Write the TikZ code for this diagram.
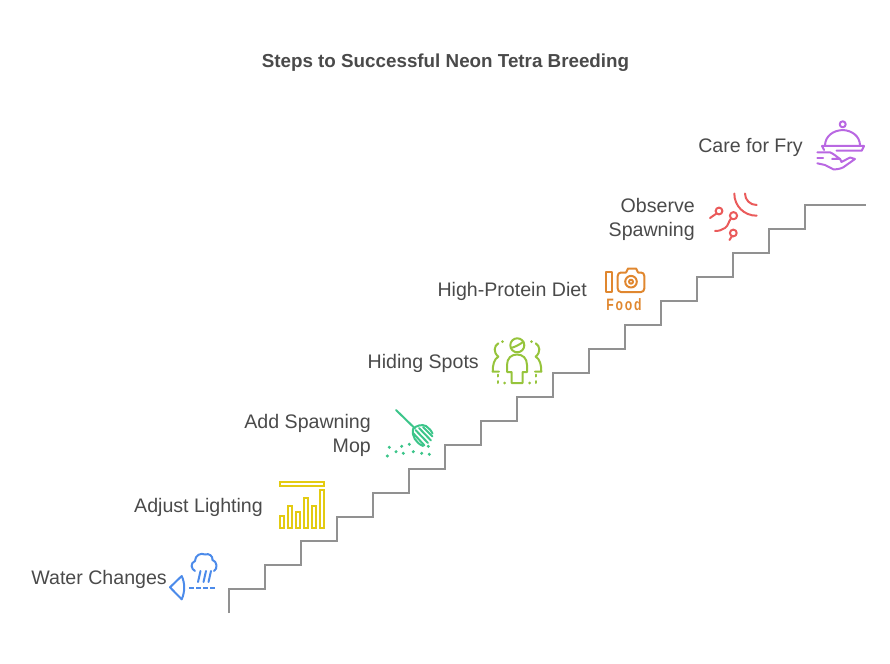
\documentclass[tikz,border=0pt]{standalone}
\usepackage{fontspec}
\setmainfont{Liberation Sans}
\definecolor{txt}{HTML}{4A4A4A}
\definecolor{stair}{HTML}{919191}
\definecolor{iblue}{HTML}{4C8BEA}
\definecolor{iyellow}{HTML}{E3CB12}
\definecolor{igreen}{HTML}{3CC58A}
\definecolor{ilime}{HTML}{96C43C}
\definecolor{iorange}{HTML}{E0872F}
\definecolor{ired}{HTML}{EA5B5B}
\definecolor{ipurple}{HTML}{B968E2}
\tikzset{
  lbl/.style={anchor=east,align=right,text=txt,inner sep=0pt,font=\fontsize{19.6}{24}\selectfont},
  ttl/.style={text=txt,inner sep=0pt,font=\fontsize{18.8}{24}\selectfont\bfseries},
  icon/.style={line width=2pt,line cap=round,line join=round,draw=#1}
}
\begin{document}
\begin{tikzpicture}[x=1pt,y=-1pt]
\useasboundingbox (0,0) rectangle (890,663);
\node[ttl] (title) at (445.5,63) {Steps to Successful Neon Tetra Breeding};
% stairs
\draw[stair,line width=2pt] (229,613) -- (229,589) -- (265,589) -- (265,565) -- (301,565) -- (301,541) -- (337,541) -- (337,517) -- (373,517) -- (373,493) -- (409,493) -- (409,469) -- (445,469) -- (445,445) -- (481,445) -- (481,421) -- (517,421) -- (517,397) -- (553,397) -- (553,373) -- (589,373) -- (589,349) -- (625,349) -- (625,325) -- (661,325) -- (661,301) -- (697,301) -- (697,277) -- (733,277) -- (733,253) -- (769,253) -- (769,229) -- (805,229) -- (805,205) -- (866,205);
% labels
\node[lbl] (water) at (167,579.5) {Water Changes};
\node[lbl] (light) at (263,507.5) {Adjust Lighting};
\node[lbl] (mop) at (371,435.5) {Add Spawning\\Mop};
\node[lbl] (hide) at (479,363.5) {Hiding Spots};
\node[lbl] (diet) at (587,291.5) {High-Protein Diet};
\node[lbl] (obs) at (695,219.5) {Observe\\Spawning};
\node[lbl] (fry) at (803,147.5) {Care for Fry};
% water icon
\begin{scope}[icon=iblue]
\draw (181.7,576) -- (170,587.3) -- (181.7,599.3);
\draw (181.7,576) .. controls (185,583) and (185,592) .. (181.7,599.3);
\draw (195,571) .. controls (191,569) and (190,563) .. (195,561) .. controls (195,555) and (201,552.5) .. (205,554.5) .. controls (209,553) and (213,556) .. (212.5,560) .. controls (217,561) and (218,569) .. (214,571);
\draw (200.5,571) -- (198,582);
\draw (206,571) -- (203.5,582);
\draw (211,571) -- (208.5,582);
\end{scope}
\foreach \sx in {189,196,203,210}{\fill[iblue] (\sx,586.5) rectangle ++(5,2);}
% lighting icon
\begin{scope}[icon=iyellow,line join=miter,line cap=butt,line width=2pt]
\draw (280,482) rectangle (324,486);
\draw (280,516) rectangle (284,528);
\draw (288,505.5) rectangle (292,528);
\draw (296,511.5) rectangle (300,528);
\draw (304,497.5) rectangle (308,528);
\draw (312,505.5) rectangle (316,528);
\draw (320,490) rectangle (324,528);
\end{scope}
% mop icon
\begin{scope}[icon=igreen]
\draw (396,410) -- (415,428.5);
\draw (413,429) .. controls (416,425.5) and (422,424) .. (426,426) .. controls (429,428) and (431.5,431) .. (432.5,433.5);
\draw (413,433) -- (424.5,445.5);
\draw (415.5,430) -- (428,443);
\draw (419,428) -- (431,440.5);
\draw (423,427) -- (432.5,436.5);
\draw (413,429) .. controls (411.5,436) and (416,443) .. (423,446);
\end{scope}
\foreach \px/\py in {389.3/447.3,396/451.7,401.7/446.3,409.3/444.3,403.3/453.3,413.3/451.7,421.7/453.3,429.3/454.3,428.3/446.3,387.3/456}{
  \fill[igreen] (\px,\py) circle (1.7pt);
}
% hiding icon
\begin{scope}[icon=ilime]
\draw (517.3,345.3) circle (7pt);
\draw (511,348) .. controls (515,347) and (520,344.5) .. (523.5,341.5);
\draw (511.7,383) -- (511.7,372) -- (507,372) -- (507,365) .. controls (507,358) and (511.5,354.5) .. (517,354.5) .. controls (522.5,354.5) and (527,358) .. (527,365) -- (527,372) -- (522.5,372) -- (522.5,383) -- cycle;
\draw (498.3,343.3) .. controls (494,346) and (493,352) .. (498.3,356.7) .. controls (494,359) and (492.7,365) .. (492.7,371.7) -- (499,371.7);
\draw (535.7,343.3) .. controls (540,346) and (541,352) .. (535.7,356.7) .. controls (540,359) and (541.3,365) .. (541.3,371.7) -- (535,371.7);
\foreach \sy in {374.5,381}{\draw (498,\sy) -- ++(0,2); \draw (536,\sy) -- ++(0,2);}
\end{scope}
\fill[ilime] (502.5,341.7) circle (1.5pt) (531.5,341.7) circle (1.5pt) (504.5,383) circle (1.5pt) (529.5,383) circle (1.5pt);
% food icon
\begin{scope}[icon=iorange]
\draw (606,272) rectangle (612,292);
\draw (621,272.5) -- (626,272.5) -- (628,268.5) -- (636,268.5) -- (638,272.5) -- (641,272.5) .. controls (643,272.5) and (644.3,274) .. (644.3,276) -- (644.3,288.5) .. controls (644.3,290.5) and (643,292) .. (641,292) -- (621,292) .. controls (619,292) and (617.7,290.5) .. (617.7,288.5) -- (617.7,276) .. controls (617.7,274) and (619,272.5) .. (621,272.5) -- cycle;
\draw (631,281.7) circle (5.8pt);
\draw (631,281.7) circle (2pt);
\end{scope}
\node[text=iorange,inner sep=0pt,xscale=.74,font=\fontsize{16.5}{18}\selectfont\bfseries] (food) at (624,305) {F\kern2.5pt o\kern2.5pt o\kern2.5pt d};
% sperm icon
\begin{scope}[icon=ired]
\draw (734.3,193.5) .. controls (734.3,206) and (744,215.7) .. (756.7,215.7);
\draw (745,193.5) .. controls (745,200) and (750,205) .. (756.7,205);
\draw (719,211) circle (3.4pt);
\draw (716.5,213.5) -- (710,218);
\draw (733.5,215.7) circle (3.6pt);
\draw (731,218.5) .. controls (728,222) and (729,225) .. (725,228) .. controls (722,230) and (719,231) .. (715,231);
\draw (733.3,233) circle (3.4pt);
\draw (732,236) -- (729.5,240);
\end{scope}
% dome icon
\begin{scope}[icon=ipurple]
\draw (842.7,124.3) circle (3pt);
\draw (825,145) .. controls (825.5,136) and (833,130.5) .. (842.7,130) .. controls (852,130.5) and (859.5,136) .. (860,145);
\draw (822,146) -- (864,146) -- (861.7,150.7) -- (836.5,150.7);
\draw (822,146) -- (824,150);
\draw (817.3,152.3) -- (830,152.3) .. controls (834,154) and (837,157) .. (840,159) -- (832,159);
\draw (817.3,158) -- (823,158);
\draw (840,159) -- (841.5,162) -- (850,157.5) -- (855,159) -- (843.3,167.3) .. controls (840,169) and (836,169.5) .. (833.3,169.3) -- (825,165) -- (817.3,163.3);
\end{scope}
\end{tikzpicture}
\end{document}
